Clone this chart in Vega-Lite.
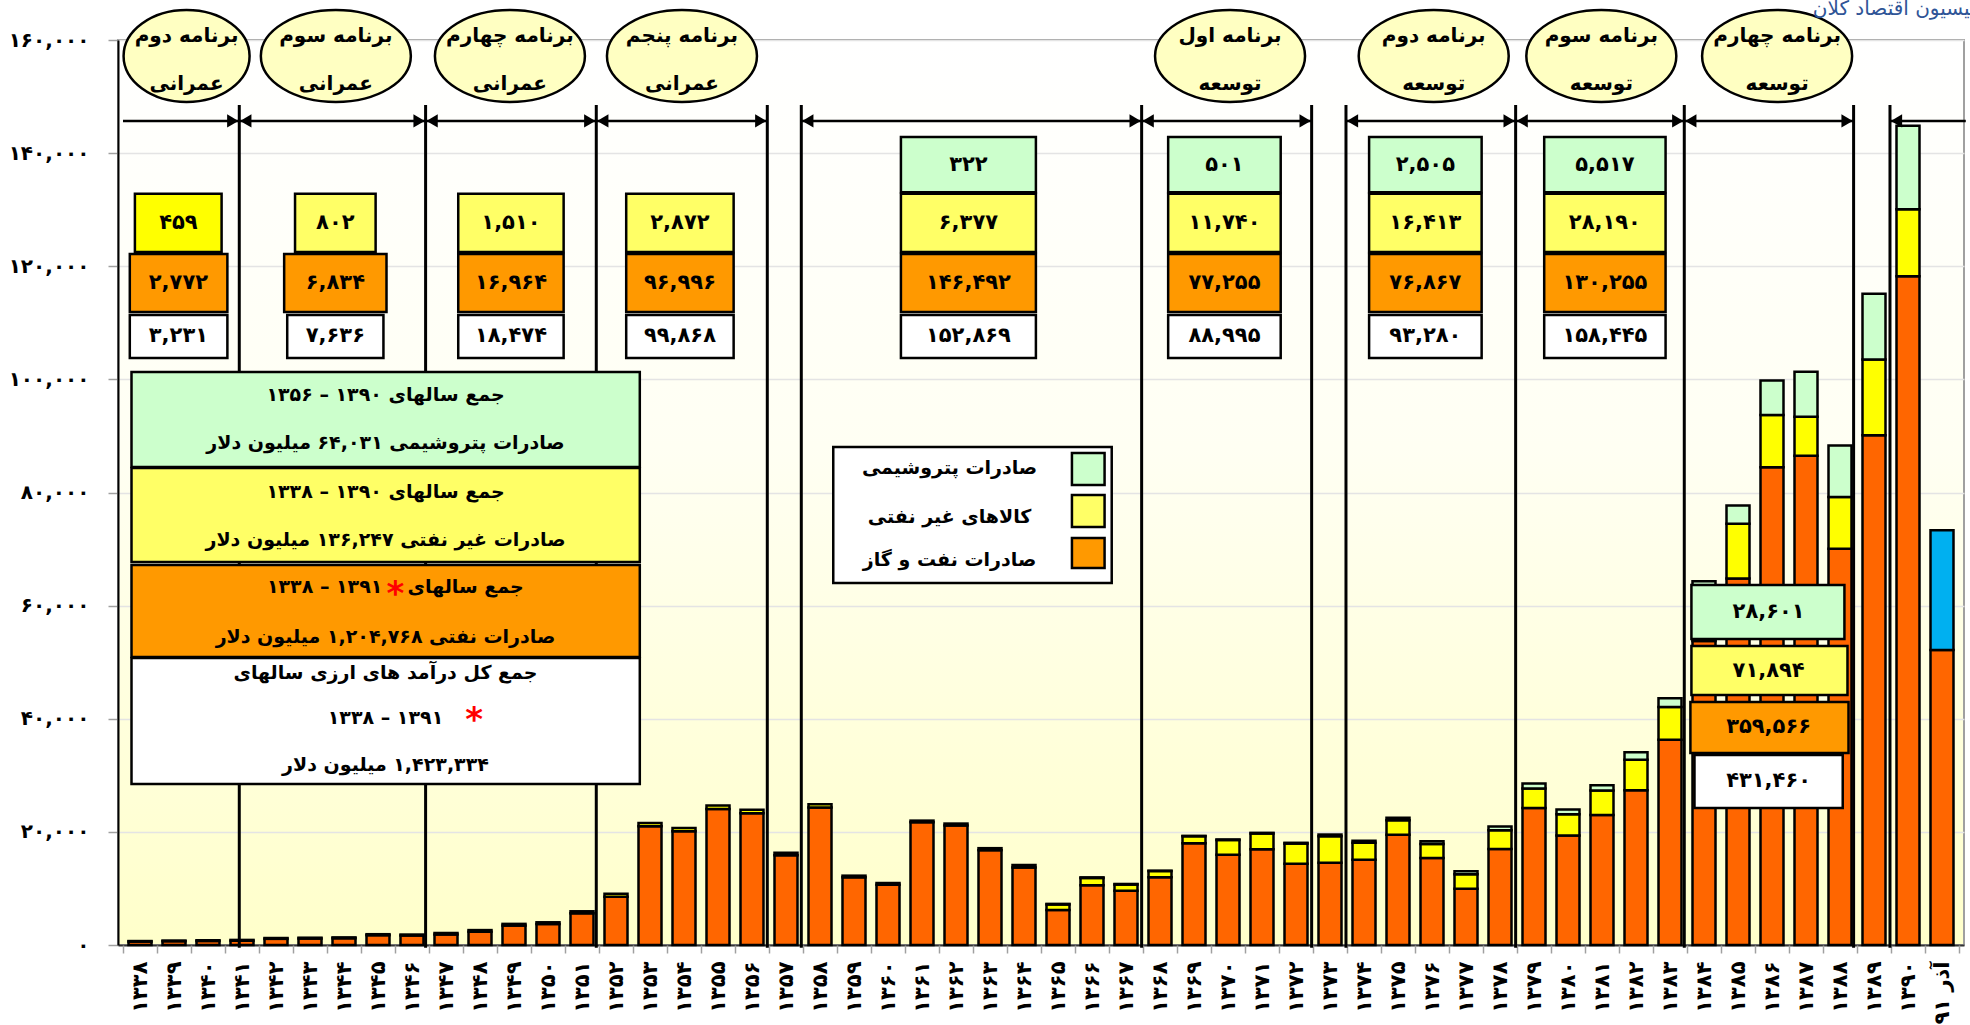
{
  "$schema": "https://vega.github.io/schema/vega-lite/v6.json",
  "width": 1846,
  "height": 905,
  "autosize": {"type": "none"},
  "padding": {"left": 118, "top": 40, "right": 6, "bottom": 80},
  "background": "white",
  "config": {
    "view": {
      "stroke": "#A0A0A0",
      "strokeWidth": 2,
      "fill": {"gradient": "linear", "x1": 0, "y1": 0, "x2": 0, "y2": 1, "stops": [{"offset": 0, "color": "#FFFFFF"}, {"offset": 0.45, "color": "#FFFFF3"}, {"offset": 1, "color": "#FFFFCA"}]}
    },
    "font": "DejaVu Sans",
    "text": {"font": "DejaVu Sans", "fontWeight": "bold", "color": "black"},
    "axisY": {
      "grid": true,
      "gridColor": "#E4E4E4",
      "gridWidth": 1.5,
      "tickSize": 10,
      "tickColor": "#A0A0A0",
      "tickWidth": 1.5,
      "domainColor": "black",
      "domainWidth": 2,
      "labelFont": "DejaVu Sans",
      "labelFontSize": 20,
      "labelFontWeight": "bold",
      "labelColor": "black",
      "labelPadding": 19,
      "title": null
    }
  },
  "datasets": {
    "bars": [
      {"year": 1338, "part": "oil", "value": 600, "level": 1}, {"year": 1338, "part": "nonoil", "value": 100, "level": 2},
      {"year": 1339, "part": "oil", "value": 680, "level": 1}, {"year": 1339, "part": "nonoil", "value": 110, "level": 2},
      {"year": 1340, "part": "oil", "value": 720, "level": 1}, {"year": 1340, "part": "nonoil", "value": 120, "level": 2},
      {"year": 1341, "part": "oil", "value": 770, "level": 1}, {"year": 1341, "part": "nonoil", "value": 130, "level": 2},
      {"year": 1342, "part": "oil", "value": 1085, "level": 1}, {"year": 1342, "part": "nonoil", "value": 150, "level": 2},
      {"year": 1343, "part": "oil", "value": 1135, "level": 1}, {"year": 1343, "part": "nonoil", "value": 155, "level": 2},
      {"year": 1344, "part": "oil", "value": 1190, "level": 1}, {"year": 1344, "part": "nonoil", "value": 160, "level": 2},
      {"year": 1345, "part": "oil", "value": 1740, "level": 1}, {"year": 1345, "part": "nonoil", "value": 170, "level": 2},
      {"year": 1346, "part": "oil", "value": 1683, "level": 1}, {"year": 1346, "part": "nonoil", "value": 167, "level": 2},
      {"year": 1347, "part": "oil", "value": 1864, "level": 1}, {"year": 1347, "part": "nonoil", "value": 260, "level": 2},
      {"year": 1348, "part": "oil", "value": 2358, "level": 1}, {"year": 1348, "part": "nonoil", "value": 280, "level": 2},
      {"year": 1349, "part": "oil", "value": 3435, "level": 1}, {"year": 1349, "part": "nonoil", "value": 300, "level": 2},
      {"year": 1350, "part": "oil", "value": 3706, "level": 1}, {"year": 1350, "part": "nonoil", "value": 310, "level": 2},
      {"year": 1351, "part": "oil", "value": 5601, "level": 1}, {"year": 1351, "part": "nonoil", "value": 360, "level": 2},
      {"year": 1352, "part": "oil", "value": 8546, "level": 1}, {"year": 1352, "part": "nonoil", "value": 500, "level": 2},
      {"year": 1353, "part": "oil", "value": 20988, "level": 1}, {"year": 1353, "part": "nonoil", "value": 560, "level": 2},
      {"year": 1354, "part": "oil", "value": 20094, "level": 1}, {"year": 1354, "part": "nonoil", "value": 590, "level": 2},
      {"year": 1355, "part": "oil", "value": 24066, "level": 1}, {"year": 1355, "part": "nonoil", "value": 610, "level": 2},
      {"year": 1356, "part": "oil", "value": 23299, "level": 1}, {"year": 1356, "part": "nonoil", "value": 612, "level": 2},
      {"year": 1357, "part": "oil", "value": 15880, "level": 1}, {"year": 1357, "part": "nonoil", "value": 450, "level": 2},
      {"year": 1358, "part": "oil", "value": 24320, "level": 1}, {"year": 1358, "part": "nonoil", "value": 550, "level": 2},
      {"year": 1359, "part": "oil", "value": 11960, "level": 1}, {"year": 1359, "part": "nonoil", "value": 300, "level": 2},
      {"year": 1360, "part": "oil", "value": 10670, "level": 1}, {"year": 1360, "part": "nonoil", "value": 290, "level": 2},
      {"year": 1361, "part": "oil", "value": 21710, "level": 1}, {"year": 1361, "part": "nonoil", "value": 280, "level": 2},
      {"year": 1362, "part": "oil", "value": 21140, "level": 1}, {"year": 1362, "part": "nonoil", "value": 330, "level": 2},
      {"year": 1363, "part": "oil", "value": 16770, "level": 1}, {"year": 1363, "part": "nonoil", "value": 350, "level": 2},
      {"year": 1364, "part": "oil", "value": 13680, "level": 1}, {"year": 1364, "part": "nonoil", "value": 450, "level": 2},
      {"year": 1365, "part": "oil", "value": 6170, "level": 1}, {"year": 1365, "part": "nonoil", "value": 1000, "level": 2}, {"year": 1365, "part": "petro", "value": 100, "level": 3},
      {"year": 1366, "part": "oil", "value": 10550, "level": 1}, {"year": 1366, "part": "nonoil", "value": 1300, "level": 2}, {"year": 1366, "part": "petro", "value": 110, "level": 3},
      {"year": 1367, "part": "oil", "value": 9578, "level": 1}, {"year": 1367, "part": "nonoil", "value": 1100, "level": 2}, {"year": 1367, "part": "petro", "value": 112, "level": 3},
      {"year": 1368, "part": "oil", "value": 12000, "level": 1}, {"year": 1368, "part": "nonoil", "value": 1070, "level": 2}, {"year": 1368, "part": "petro", "value": 60, "level": 3},
      {"year": 1369, "part": "oil", "value": 17990, "level": 1}, {"year": 1369, "part": "nonoil", "value": 1230, "level": 2}, {"year": 1369, "part": "petro", "value": 80, "level": 3},
      {"year": 1370, "part": "oil", "value": 15970, "level": 1}, {"year": 1370, "part": "nonoil", "value": 2590, "level": 2}, {"year": 1370, "part": "petro", "value": 100, "level": 3},
      {"year": 1371, "part": "oil", "value": 16920, "level": 1}, {"year": 1371, "part": "nonoil", "value": 2790, "level": 2}, {"year": 1371, "part": "petro", "value": 120, "level": 3},
      {"year": 1372, "part": "oil", "value": 14375, "level": 1}, {"year": 1372, "part": "nonoil", "value": 3554, "level": 2}, {"year": 1372, "part": "petro", "value": 141, "level": 3},
      {"year": 1373, "part": "oil", "value": 14560, "level": 1}, {"year": 1373, "part": "nonoil", "value": 4670, "level": 2}, {"year": 1373, "part": "petro", "value": 300, "level": 3},
      {"year": 1374, "part": "oil", "value": 15090, "level": 1}, {"year": 1374, "part": "nonoil", "value": 2990, "level": 2}, {"year": 1374, "part": "petro", "value": 350, "level": 3},
      {"year": 1375, "part": "oil", "value": 19470, "level": 1}, {"year": 1375, "part": "nonoil", "value": 2580, "level": 2}, {"year": 1375, "part": "petro", "value": 450, "level": 3},
      {"year": 1376, "part": "oil", "value": 15380, "level": 1}, {"year": 1376, "part": "nonoil", "value": 2470, "level": 2}, {"year": 1376, "part": "petro", "value": 500, "level": 3},
      {"year": 1377, "part": "oil", "value": 9960, "level": 1}, {"year": 1377, "part": "nonoil", "value": 2540, "level": 2}, {"year": 1377, "part": "petro", "value": 550, "level": 3},
      {"year": 1378, "part": "oil", "value": 16967, "level": 1}, {"year": 1378, "part": "nonoil", "value": 3328, "level": 2}, {"year": 1378, "part": "petro", "value": 655, "level": 3},
      {"year": 1379, "part": "oil", "value": 24240, "level": 1}, {"year": 1379, "part": "nonoil", "value": 3420, "level": 2}, {"year": 1379, "part": "petro", "value": 880, "level": 3},
      {"year": 1380, "part": "oil", "value": 19350, "level": 1}, {"year": 1380, "part": "nonoil", "value": 3765, "level": 2}, {"year": 1380, "part": "petro", "value": 835, "level": 3},
      {"year": 1381, "part": "oil", "value": 23000, "level": 1}, {"year": 1381, "part": "nonoil", "value": 4315, "level": 2}, {"year": 1381, "part": "petro", "value": 935, "level": 3},
      {"year": 1382, "part": "oil", "value": 27360, "level": 1}, {"year": 1382, "part": "nonoil", "value": 5400, "level": 2}, {"year": 1382, "part": "petro", "value": 1320, "level": 3},
      {"year": 1383, "part": "oil", "value": 36305, "level": 1}, {"year": 1383, "part": "nonoil", "value": 5773, "level": 2}, {"year": 1383, "part": "petro", "value": 1547, "level": 3},
      {"year": 1384, "part": "oil", "value": 53756, "level": 1}, {"year": 1384, "part": "nonoil", "value": 8354, "level": 2}, {"year": 1384, "part": "petro", "value": 2190, "level": 3},
      {"year": 1385, "part": "oil", "value": 64800, "level": 1}, {"year": 1385, "part": "nonoil", "value": 9660, "level": 2}, {"year": 1385, "part": "petro", "value": 3240, "level": 3},
      {"year": 1386, "part": "oil", "value": 84460, "level": 1}, {"year": 1386, "part": "nonoil", "value": 9260, "level": 2}, {"year": 1386, "part": "petro", "value": 6080, "level": 3},
      {"year": 1387, "part": "oil", "value": 86490, "level": 1}, {"year": 1387, "part": "nonoil", "value": 6890, "level": 2}, {"year": 1387, "part": "petro", "value": 7970, "level": 3},
      {"year": 1388, "part": "oil", "value": 70060, "level": 1}, {"year": 1388, "part": "nonoil", "value": 9130, "level": 2}, {"year": 1388, "part": "petro", "value": 9120, "level": 3},
      {"year": 1389, "part": "oil", "value": 90130, "level": 1}, {"year": 1389, "part": "nonoil", "value": 13380, "level": 2}, {"year": 1389, "part": "petro", "value": 11620, "level": 3},
      {"year": 1390, "part": "oil", "value": 118240, "level": 1}, {"year": 1390, "part": "nonoil", "value": 11830, "level": 2}, {"year": 1390, "part": "petro", "value": 14790, "level": 3},
      {"year": 1391, "part": "oil", "value": 52160, "level": 1}, {"year": 1391, "part": "azar91", "value": 21150, "level": 2}
    ],
    "dividers": [
      {"at": 1340.92}, {"at": 1346.4}, {"at": 1351.42}, {"at": 1356.45}, {"at": 1357.45}, {"at": 1367.46},
      {"at": 1372.46}, {"at": 1373.47}, {"at": 1378.46}, {"at": 1383.42}, {"at": 1388.4}, {"at": 1389.47}
    ],
    "arrows": [
      {"from": 1337.5, "to": 1340.92}, {"from": 1340.92, "to": 1346.4}, {"from": 1346.4, "to": 1351.42},
      {"from": 1351.42, "to": 1356.45}, {"from": 1357.45, "to": 1367.46}, {"from": 1367.46, "to": 1372.46},
      {"from": 1373.47, "to": 1378.46}, {"from": 1378.46, "to": 1383.42}, {"from": 1383.42, "to": 1388.4},
      {"from": 1389.47, "to": 1391.7}
    ],
    "heads": [
      {"at": 1340.92, "dir": "right"}, {"at": 1346.4, "dir": "right"}, {"at": 1351.42, "dir": "right"},
      {"at": 1356.45, "dir": "right"}, {"at": 1367.46, "dir": "right"}, {"at": 1372.46, "dir": "right"},
      {"at": 1378.46, "dir": "right"}, {"at": 1383.42, "dir": "right"}, {"at": 1388.4, "dir": "right"},
      {"at": 1340.92, "dir": "left"}, {"at": 1346.4, "dir": "left"}, {"at": 1351.42, "dir": "left"},
      {"at": 1357.45, "dir": "left"}, {"at": 1367.46, "dir": "left"}, {"at": 1373.47, "dir": "left"},
      {"at": 1378.46, "dir": "left"}, {"at": 1383.42, "dir": "left"}, {"at": 1389.47, "dir": "left"}
    ],
    "rects": [
      {"kind": "nonoil_b", "from": 1337.85, "to": 1340.4, "lo": 122500, "hi": 132800, "at": 1339.13, "v": 127650, "label": "۴۵۹"},
      {"kind": "oil", "from": 1337.7, "to": 1340.57, "lo": 111900, "hi": 122150, "at": 1339.13, "v": 117025, "label": "۲,۷۷۲"},
      {"kind": "total", "from": 1337.7, "to": 1340.57, "lo": 103800, "hi": 111400, "at": 1339.13, "v": 107600, "label": "۳,۲۳۱"},
      {"kind": "nonoil", "from": 1342.56, "to": 1344.93, "lo": 122500, "hi": 132800, "at": 1343.745, "v": 127650, "label": "۸۰۲"},
      {"kind": "oil", "from": 1342.24, "to": 1345.25, "lo": 111900, "hi": 122150, "at": 1343.745, "v": 117025, "label": "۶,۸۳۴"},
      {"kind": "total", "from": 1342.33, "to": 1345.16, "lo": 103800, "hi": 111400, "at": 1343.745, "v": 107600, "label": "۷,۶۳۶"},
      {"kind": "nonoil", "from": 1347.36, "to": 1350.46, "lo": 122500, "hi": 132800, "at": 1348.91, "v": 127650, "label": "۱,۵۱۰"},
      {"kind": "oil", "from": 1347.36, "to": 1350.46, "lo": 111900, "hi": 122150, "at": 1348.91, "v": 117025, "label": "۱۶,۹۶۴"},
      {"kind": "total", "from": 1347.36, "to": 1350.46, "lo": 103800, "hi": 111400, "at": 1348.91, "v": 107600, "label": "۱۸,۴۷۴"},
      {"kind": "nonoil", "from": 1352.3, "to": 1355.46, "lo": 122500, "hi": 132800, "at": 1353.88, "v": 127650, "label": "۲,۸۷۲"},
      {"kind": "oil", "from": 1352.3, "to": 1355.46, "lo": 111900, "hi": 122150, "at": 1353.88, "v": 117025, "label": "۹۶,۹۹۶"},
      {"kind": "total", "from": 1352.3, "to": 1355.46, "lo": 103800, "hi": 111400, "at": 1353.88, "v": 107600, "label": "۹۹,۸۶۸"},
      {"kind": "petro", "from": 1360.38, "to": 1364.35, "lo": 133100, "hi": 142850, "at": 1362.365, "v": 137975, "label": "۳۲۲"},
      {"kind": "nonoil", "from": 1360.38, "to": 1364.35, "lo": 122500, "hi": 132800, "at": 1362.365, "v": 127650, "label": "۶,۳۷۷"},
      {"kind": "oil", "from": 1360.38, "to": 1364.35, "lo": 111900, "hi": 122150, "at": 1362.365, "v": 117025, "label": "۱۴۶,۴۹۲"},
      {"kind": "total", "from": 1360.38, "to": 1364.35, "lo": 103800, "hi": 111400, "at": 1362.365, "v": 107600, "label": "۱۵۲,۸۶۹"},
      {"kind": "petro", "from": 1368.24, "to": 1371.55, "lo": 133100, "hi": 142850, "at": 1369.895, "v": 137975, "label": "۵۰۱"},
      {"kind": "nonoil", "from": 1368.24, "to": 1371.55, "lo": 122500, "hi": 132800, "at": 1369.895, "v": 127650, "label": "۱۱,۷۴۰"},
      {"kind": "oil", "from": 1368.24, "to": 1371.55, "lo": 111900, "hi": 122150, "at": 1369.895, "v": 117025, "label": "۷۷,۲۵۵"},
      {"kind": "total", "from": 1368.24, "to": 1371.55, "lo": 103800, "hi": 111400, "at": 1369.895, "v": 107600, "label": "۸۸,۹۹۵"},
      {"kind": "petro", "from": 1374.15, "to": 1377.46, "lo": 133100, "hi": 142850, "at": 1375.805, "v": 137975, "label": "۲,۵۰۵"},
      {"kind": "nonoil", "from": 1374.15, "to": 1377.46, "lo": 122500, "hi": 132800, "at": 1375.805, "v": 127650, "label": "۱۶,۴۱۳"},
      {"kind": "oil", "from": 1374.15, "to": 1377.46, "lo": 111900, "hi": 122150, "at": 1375.805, "v": 117025, "label": "۷۶,۸۶۷"},
      {"kind": "total", "from": 1374.15, "to": 1377.46, "lo": 103800, "hi": 111400, "at": 1375.805, "v": 107600, "label": "۹۳,۲۸۰"},
      {"kind": "petro", "from": 1379.3, "to": 1382.87, "lo": 133100, "hi": 142850, "at": 1381.085, "v": 137975, "label": "۵,۵۱۷"},
      {"kind": "nonoil", "from": 1379.3, "to": 1382.87, "lo": 122500, "hi": 132800, "at": 1381.085, "v": 127650, "label": "۲۸,۱۹۰"},
      {"kind": "oil", "from": 1379.3, "to": 1382.87, "lo": 111900, "hi": 122150, "at": 1381.085, "v": 117025, "label": "۱۳۰,۲۵۵"},
      {"kind": "total", "from": 1379.3, "to": 1382.87, "lo": 103800, "hi": 111400, "at": 1381.085, "v": 107600, "label": "۱۵۸,۴۴۵"},
      {"kind": "petro", "from": 1383.63, "to": 1388.13, "lo": 54100, "hi": 63650, "at": 1385.9, "v": 58875, "label": "۲۸,۶۰۱"},
      {"kind": "nonoil", "from": 1383.63, "to": 1388.22, "lo": 44200, "hi": 52860, "at": 1385.9, "v": 48530, "label": "۷۱,۸۹۴"},
      {"kind": "oil", "from": 1383.6, "to": 1388.25, "lo": 33950, "hi": 42960, "at": 1385.9, "v": 38455, "label": "۳۵۹,۵۶۶"},
      {"kind": "total", "from": 1383.72, "to": 1388.08, "lo": 24220, "hi": 33600, "at": 1385.9, "v": 28910, "label": "۴۳۱,۴۶۰"},
      {"kind": "petro", "from": 1337.75, "to": 1352.7, "lo": 84500, "hi": 101300, "at": 1345.22, "v": 92900, "label": ""},
      {"kind": "nonoil", "from": 1337.75, "to": 1352.7, "lo": 67710, "hi": 84330, "at": 1345.22, "v": 76000, "label": ""},
      {"kind": "oil", "from": 1337.75, "to": 1352.7, "lo": 50920, "hi": 67180, "at": 1345.22, "v": 59000, "label": ""},
      {"kind": "total", "from": 1337.75, "to": 1352.7, "lo": 28460, "hi": 50740, "at": 1345.22, "v": 39600, "label": ""},
      {"kind": "total", "from": 1358.39, "to": 1366.58, "lo": 64000, "hi": 88050, "at": 1362.48, "v": 76000, "label": ""},
      {"kind": "petro", "from": 1365.41, "to": 1366.37, "lo": 81330, "hi": 86990, "at": 1365.89, "v": 84160, "label": ""},
      {"kind": "nonoil", "from": 1365.41, "to": 1366.37, "lo": 73900, "hi": 79560, "at": 1365.89, "v": 76730, "label": ""},
      {"kind": "oil", "from": 1365.41, "to": 1366.37, "lo": 66650, "hi": 71960, "at": 1365.89, "v": 69300, "label": ""}
    ],
    "notes": [
      {"at": 1345.22, "v": 97240, "label": "جمع سالهای  ۱۳۹۰ – ۱۳۵۶"},
      {"at": 1345.22, "v": 88750, "label": "صادرات پتروشیمی  ۶۴,۰۳۱ میلیون دلار"},
      {"at": 1345.22, "v": 80090, "label": "جمع سالهای  ۱۳۹۰ – ۱۳۳۸"},
      {"at": 1345.22, "v": 71600, "label": "صادرات غیر نفتی  ۱۳۶,۲۴۷ میلیون دلار"},
      {"at": 1345.22, "v": 54450, "label": "صادرات نفتی  ۱,۲۰۴,۷۶۸ میلیون دلار"},
      {"at": 1345.22, "v": 48090, "label": "جمع کل درآمد های ارزی سالهای"},
      {"at": 1345.22, "v": 40130, "label": "۱۳۳۸ – ۱۳۹۱"},
      {"at": 1345.22, "v": 31820, "label": "\u200f۱,۴۲۳,۳۳۴ میلیون دلار"},
      {"at": 1361.81, "v": 84330, "label": "صادرات پتروشیمی"},
      {"at": 1361.81, "v": 75670, "label": "کالاهای غیر نفتی"},
      {"at": 1361.81, "v": 68070, "label": "صادرات نفت و گاز"}
    ],
    "noteRight": [{"at": 1345.13, "v": 63290, "label": "۱۳۳۸ – ۱۳۹۱"}],
    "noteLeft": [{"at": 1345.87, "v": 63290, "label": "جمع سالهای"}],
    "stars": [{"at": 1345.51, "v": 63290}, {"at": 1347.83, "v": 41020}],
    "plans": [
      {"at": 1339.37, "l1": "برنامه دوم", "l2": "عمرانی"},
      {"at": 1343.76, "l1": "برنامه سوم", "l2": "عمرانی"},
      {"at": 1348.88, "l1": "برنامه چهارم", "l2": "عمرانی"},
      {"at": 1353.94, "l1": "برنامه پنجم", "l2": "عمرانی"},
      {"at": 1370.06, "l1": "برنامه اول", "l2": "توسعه"},
      {"at": 1376.05, "l1": "برنامه دوم", "l2": "توسعه"},
      {"at": 1380.98, "l1": "برنامه سوم", "l2": "توسعه"},
      {"at": 1386.15, "l1": "برنامه چهارم", "l2": "توسعه"}
    ],
    "title": [{"at": 1387.2, "label": "کمیسیون اقتصاد کلان:"}]
  },
  "layer": [
    {
      "data": {"name": "bars"},
      "mark": {"type": "bar", "size": 23, "stroke": "black", "strokeWidth": 2.5},
      "encoding": {
        "x": {
          "field": "year", "type": "quantitative",
          "scale": {"domain": [1337.5, 1391.5], "nice": false, "zero": false},
          "axis": {
            "orient": "bottom",
            "values": [1338,1339,1340,1341,1342,1343,1344,1345,1346,1347,1348,1349,1350,1351,1352,1353,1354,1355,1356,1357,1358,1359,1360,1361,1362,1363,1364,1365,1366,1367,1368,1369,1370,1371,1372,1373,1374,1375,1376,1377,1378,1379,1380,1381,1382,1383,1384,1385,1386,1387,1388,1389,1390,1391],
            "format": "d",
            "labelExpr": "datum.value == 1391 ? 'آذر ۹۱' : replace(replace(replace(replace(replace(replace(replace(replace(replace(replace(format(datum.value,'d'),regexp('0','g'),'۰'),regexp('1','g'),'۱'),regexp('2','g'),'۲'),regexp('3','g'),'۳'),regexp('4','g'),'۴'),regexp('5','g'),'۵'),regexp('6','g'),'۶'),regexp('7','g'),'۷'),regexp('8','g'),'۸'),regexp('9','g'),'۹')",
            "labelAngle": -90,
            "labelPadding": 16,
            "labelFont": "DejaVu Sans",
            "labelFontSize": 21,
            "labelFontWeight": "bold",
            "labelColor": "black",
            "labelOverlap": false,
            "labelFlush": false,
            "labelBound": false,
            "ticks": false,
            "domain": true,
            "domainColor": "#333333",
            "domainWidth": 2,
            "grid": false,
            "title": null
          }
        },
        "y": {
          "field": "value", "type": "quantitative", "stack": "zero",
          "scale": {"domain": [0, 160000], "nice": false},
          "axis": {
            "values": [0, 20000, 40000, 60000, 80000, 100000, 120000, 140000, 160000],
            "labelExpr": "replace(replace(replace(replace(replace(replace(replace(replace(replace(replace(format(datum.value,','),regexp('0','g'),'۰'),regexp('1','g'),'۱'),regexp('2','g'),'۲'),regexp('3','g'),'۳'),regexp('4','g'),'۴'),regexp('5','g'),'۵'),regexp('6','g'),'۶'),regexp('7','g'),'۷'),regexp('8','g'),'۸'),regexp('9','g'),'۹')",
            "title": null
          }
        },
        "color": {
          "field": "part", "type": "nominal",
          "scale": {"domain": ["oil", "nonoil", "petro", "azar91"], "range": ["#FF6600", "#FFFF00", "#CCFFCC", "#00B0F0"]},
          "legend": null
        },
        "order": {"field": "level", "type": "quantitative"}
      }
    },
    {
      "data": {"name": "dividers"},
      "mark": {"type": "rule", "stroke": "black", "strokeWidth": 3},
      "encoding": {
        "x": {
          "field": "at", "type": "quantitative",
          "axis": {
            "orient": "bottom",
            "values": [1337.5,1338.5,1339.5,1340.5,1341.5,1342.5,1343.5,1344.5,1345.5,1346.5,1347.5,1348.5,1349.5,1350.5,1351.5,1352.5,1353.5,1354.5,1355.5,1356.5,1357.5,1358.5,1359.5,1360.5,1361.5,1362.5,1363.5,1364.5,1365.5,1366.5,1367.5,1368.5,1369.5,1370.5,1371.5,1372.5,1373.5,1374.5,1375.5,1376.5,1377.5,1378.5,1379.5,1380.5,1381.5,1382.5,1383.5,1384.5,1385.5,1386.5,1387.5,1388.5,1389.5,1390.5,1391.5],
            "labels": false,
            "ticks": true,
            "tickSize": 8,
            "tickColor": "#A0A0A0",
            "tickWidth": 1.5,
            "domain": false,
            "grid": false,
            "title": null
          }
        },
        "y": {"datum": -500, "type": "quantitative", "axis": {"title": null}},
        "y2": {"datum": 148500}
      }
    },
    {
      "data": {"name": "arrows"},
      "mark": {"type": "rule", "stroke": "black", "strokeWidth": 2.5},
      "encoding": {
        "x": {"field": "from", "type": "quantitative", "axis": null},
        "x2": {"field": "to"},
        "y": {"datum": 145700, "type": "quantitative", "axis": {"title": null}}
      }
    },
    {
      "data": {"name": "heads"},
      "transform": [{"filter": "datum.dir === 'right'"}],
      "mark": {"type": "point", "shape": "triangle-right", "size": 170, "filled": true, "color": "black", "opacity": 1, "xOffset": -6.5},
      "encoding": {
        "x": {"field": "at", "type": "quantitative", "axis": null},
        "y": {"datum": 145700, "type": "quantitative", "axis": {"title": null}}
      }
    },
    {
      "data": {"name": "heads"},
      "transform": [{"filter": "datum.dir === 'left'"}],
      "mark": {"type": "point", "shape": "triangle-left", "size": 170, "filled": true, "color": "black", "opacity": 1, "xOffset": 6.5},
      "encoding": {
        "x": {"field": "at", "type": "quantitative", "axis": null},
        "y": {"datum": 145700, "type": "quantitative", "axis": {"title": null}}
      }
    },
    {
      "data": {"name": "rects"},
      "mark": {"type": "rect", "stroke": "black", "strokeWidth": 2.5},
      "encoding": {
        "x": {"field": "from", "type": "quantitative", "axis": null},
        "x2": {"field": "to"},
        "y": {"field": "lo", "type": "quantitative", "axis": {"title": null}},
        "y2": {"field": "hi"},
        "color": {
          "field": "kind", "type": "nominal",
          "scale": {"domain": ["petro", "nonoil", "nonoil_b", "oil", "total"], "range": ["#CCFFCC", "#FFFF66", "#FFFF00", "#FF9900", "#FFFFFF"]},
          "legend": null
        }
      }
    },
    {
      "data": {"name": "rects"},
      "transform": [{"filter": "datum.label != ''"}],
      "mark": {"type": "text", "fontSize": 21, "fontWeight": "bold", "align": "center", "baseline": "middle", "color": "black"},
      "encoding": {
        "x": {"field": "at", "type": "quantitative", "axis": null},
        "y": {"field": "v", "type": "quantitative", "axis": {"title": null}},
        "text": {"field": "label"}
      }
    },
    {
      "data": {"name": "notes"},
      "mark": {"type": "text", "fontSize": 19, "fontWeight": "bold", "align": "center", "baseline": "middle", "color": "black"},
      "encoding": {
        "x": {"field": "at", "type": "quantitative", "axis": null},
        "y": {"field": "v", "type": "quantitative", "axis": {"title": null}},
        "text": {"field": "label"}
      }
    },
    {
      "data": {"name": "noteRight"},
      "mark": {"type": "text", "fontSize": 19, "fontWeight": "bold", "align": "right", "baseline": "middle", "color": "black"},
      "encoding": {
        "x": {"field": "at", "type": "quantitative", "axis": null},
        "y": {"field": "v", "type": "quantitative", "axis": {"title": null}},
        "text": {"field": "label"}
      }
    },
    {
      "data": {"name": "noteLeft"},
      "mark": {"type": "text", "fontSize": 19, "fontWeight": "bold", "align": "left", "baseline": "middle", "color": "black"},
      "encoding": {
        "x": {"field": "at", "type": "quantitative", "axis": null},
        "y": {"field": "v", "type": "quantitative", "axis": {"title": null}},
        "text": {"field": "label"}
      }
    },
    {
      "data": {"name": "stars"},
      "mark": {"type": "text", "text": "*", "fontSize": 34, "fontWeight": "bold", "align": "center", "baseline": "middle", "color": "#FF0000", "dy": 8},
      "encoding": {
        "x": {"field": "at", "type": "quantitative", "axis": null},
        "y": {"field": "v", "type": "quantitative", "axis": {"title": null}}
      }
    },
    {
      "data": {"name": "plans"},
      "transform": [{"filter": "datum.at > 1340"}],
      "mark": {"type": "point", "shape": "M -1 0 A 1 0.613 0 1 1 1 0 A 1 0.613 0 1 1 -1 0 Z", "size": 22500, "filled": true, "fill": "#FFFFC2", "stroke": "black", "strokeWidth": 2.5, "opacity": 1},
      "encoding": {
        "x": {"field": "at", "type": "quantitative", "axis": null},
        "y": {"datum": 157180, "type": "quantitative", "axis": {"title": null}}
      }
    },
    {
      "data": {"name": "plans"},
      "transform": [{"filter": "datum.at < 1340"}],
      "mark": {"type": "point", "shape": "M -1 0 A 1 0.73 0 1 1 1 0 A 1 0.73 0 1 1 -1 0 Z", "size": 15876, "filled": true, "fill": "#FFFFC2", "stroke": "black", "strokeWidth": 2.5, "opacity": 1},
      "encoding": {
        "x": {"field": "at", "type": "quantitative", "axis": null},
        "y": {"datum": 157180, "type": "quantitative", "axis": {"title": null}}
      }
    },
    {
      "data": {"name": "plans"},
      "mark": {"type": "text", "fontSize": 20, "fontWeight": "bold", "align": "center", "baseline": "middle", "color": "black"},
      "encoding": {
        "x": {"field": "at", "type": "quantitative", "axis": null},
        "y": {"datum": 160700, "type": "quantitative", "axis": {"title": null}},
        "text": {"field": "l1"}
      }
    },
    {
      "data": {"name": "plans"},
      "mark": {"type": "text", "fontSize": 20, "fontWeight": "bold", "align": "center", "baseline": "middle", "color": "black"},
      "encoding": {
        "x": {"field": "at", "type": "quantitative", "axis": null},
        "y": {"datum": 152220, "type": "quantitative", "axis": {"title": null}},
        "text": {"field": "l2"}
      }
    },
    {
      "data": {"name": "title"},
      "mark": {"type": "text", "fontSize": 20, "fontWeight": "normal", "align": "left", "baseline": "alphabetic", "color": "#2F5597"},
      "encoding": {
        "x": {"field": "at", "type": "quantitative", "axis": null},
        "y": {"datum": 164400, "type": "quantitative", "axis": {"title": null}},
        "text": {"field": "label"}
      }
    }
  ],
  "resolve": {"scale": {"color": "independent"}, "axis": {"x": "independent"}}
}
